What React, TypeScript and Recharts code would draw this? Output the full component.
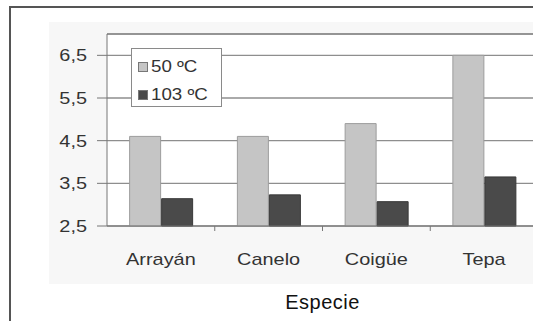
import React from "react"
import { BarChart, Bar, XAxis, YAxis, CartesianGrid, Legend, ReferenceLine, Label } from "recharts"

const especies = ["Arrayán", "Canelo", "Coigüe", "Tepa"]
const temp50 = [4.6, 4.6, 4.9, 6.5]
const temp103 = [3.14, 3.23, 3.07, 3.65]
const yTicks = [2.5, 3.5, 4.5, 5.5, 6.5]
const seriesNames = ["50 ºC", "103 ºC"]

const data = especies.map((especie, i) => ({
    especie,
    t50: temp50[i],
    t103: temp103[i],
}))

const FONT = "'Liberation Sans', Arial, sans-serif"
const GRID = "#8e8e8e"
const STRETCH = 1.17

const fmt = (v: number) => v.toFixed(1).replace(".", ",")

// category label + small tick mark on the band boundary (like the original)
function CatTick({ x, y, payload, width, visibleTicksCount, index }: any) {
    const half = width / visibleTicksCount / 2
    return (
        <g>
            {index < visibleTicksCount - 1 && (
                <line x1={x + half} x2={x + half} y1={y - 27} y2={y - 22} stroke="#777" />
            )}
            <text
                transform={`translate(${x},${y}) scale(${STRETCH},1)`}
                textAnchor="middle"
                dy="0.71em"
                fill="#333"
                fontSize={17}
            >
                {payload.value}
            </text>
        </g>
    )
}

function ValTick({ x, y, payload }: any) {
    return (
        <text
            transform={`translate(${x},${y}) scale(${STRETCH},1)`}
            textAnchor="end"
            dy="0.355em"
            fill="#333"
            fontSize={17}
        >
            {fmt(payload.value)}
        </text>
    )
}

function LegendBox({ payload }: any) {
    const items = seriesNames.map((n) => (payload || []).find((p: any) => p.value === n)).filter(Boolean)
    return (
        <div
            style={{
                width: 91,
                height: 59,
                boxSizing: "border-box",
                border: "1.5px solid #8a8a8a",
                background: "#fff",
                paddingTop: 4,
                paddingLeft: 6,
                fontFamily: FONT,
            }}
        >
            {items.map((p: any) => (
                <div key={p.value} style={{ display: "flex", alignItems: "center", height: 28 }}>
                    <span
                        style={{
                            width: 10,
                            height: 10,
                            background: p.color,
                            border: "1px solid #777",
                            boxSizing: "border-box",
                            marginRight: 3,
                            flexShrink: 0,
                        }}
                    />
                    <span
                        style={{
                            fontSize: 16,
                            color: "#333",
                            display: "inline-block",
                            whiteSpace: "nowrap",
                            transform: `scaleX(${STRETCH})`,
                            transformOrigin: "left center",
                        }}
                    >
                        {p.value}
                    </span>
                </div>
            ))}
        </div>
    )
}

export default function App() {
    return (
        <div
            style={{
                position: "absolute",
                top: 0,
                left: 0,
                width: 533,
                height: 321,
                overflow: "hidden",
                background: "#fff",
            }}
        >
            {/* faint scanned background */}
            <div style={{ position: "absolute", left: 49, top: 22, width: 500, height: 262, background: "#f7f7f7" }} />
            {/* outer frame */}
            <div
                style={{
                    position: "absolute",
                    left: 9,
                    top: 6,
                    width: 600,
                    height: 400,
                    borderLeft: "2px solid #555",
                    borderTop: "2px solid #555",
                }}
            />
            <div style={{ position: "absolute", left: 0, top: 0 }}>
                <BarChart
                    width={545}
                    height={321}
                    data={data}
                    margin={{ top: 34, right: 7, left: 0, bottom: 0 }}
                    barCategoryGap="21%"
                    barGap={1}
                    style={{ fontFamily: FONT }}
                >
                    <CartesianGrid vertical={false} stroke={GRID} strokeWidth={1.3} fill="#fff" />
                    <XAxis
                        dataKey="especie"
                        height={95}
                        stroke="#777"
                        tickLine={false}
                        tickSize={6}
                        tickMargin={21}
                        interval={0}
                        tick={<CatTick />}
                    >
                        <Label
                            value="Especie"
                            position="insideBottom"
                            offset={12}
                            style={{ fill: "#111", fontSize: 20, letterSpacing: 0.5 }}
                        />
                    </XAxis>
                    <YAxis
                        width={107}
                        domain={[2.5, 7]}
                        ticks={yTicks}
                        stroke="#777"
                        tickSize={10}
                        tickMargin={10}
                        tick={<ValTick />}
                    />
                    <ReferenceLine y={7} stroke={GRID} strokeWidth={1.3} />
                    <Legend
                        layout="vertical"
                        align="center"
                        verticalAlign="middle"
                        wrapperStyle={{ left: 131, top: 48, width: 91, height: 59 }}
                        content={<LegendBox />}
                    />
                    <Bar dataKey="t50" name={seriesNames[0]} fill="#c5c5c5" stroke="#9c9c9c" isAnimationActive={false} />
                    <Bar dataKey="t103" name={seriesNames[1]} fill="#4a4a4a" stroke="#383838" isAnimationActive={false} />
                </BarChart>
            </div>
        </div>
    )
}
